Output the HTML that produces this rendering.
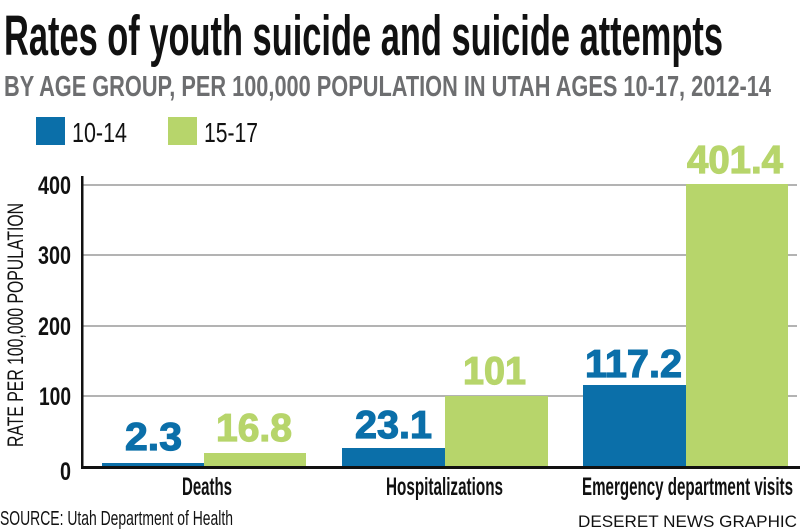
<!DOCTYPE html>
<html>
<head>
<meta charset="utf-8">
<style>
  html, body { margin: 0; padding: 0; background: #ffffff; }
  svg { display: block; }
  text { font-family: "Liberation Sans", sans-serif; }
</style>
</head>
<body>
<svg width="800" height="531" viewBox="0 0 800 531" xmlns="http://www.w3.org/2000/svg">
  <rect x="0" y="0" width="800" height="531" fill="#ffffff"/>

  <!-- Title -->
  <text x="4" y="55" font-size="57" font-weight="bold" fill="#111111" textLength="719" lengthAdjust="spacingAndGlyphs">Rates of youth suicide and suicide attempts</text>
  <!-- Subtitle -->
  <text x="4" y="96" font-size="29" font-weight="bold" fill="#6d6e70" textLength="767" lengthAdjust="spacingAndGlyphs">BY AGE GROUP, PER 100,000 POPULATION IN UTAH AGES 10-17, 2012-14</text>

  <!-- Legend -->
  <rect x="36" y="117" width="29" height="28" fill="#0b6fa9"/>
  <text x="72" y="142" font-size="28" fill="#111111" textLength="55" lengthAdjust="spacingAndGlyphs">10-14</text>
  <rect x="168" y="117" width="29" height="28" fill="#b7d56b"/>
  <text x="204" y="142" font-size="28" fill="#111111" textLength="54" lengthAdjust="spacingAndGlyphs">15-17</text>

  <!-- Gridlines -->
  <g stroke="#9a9a9a" stroke-width="1.5">
    <line x1="83" y1="185" x2="797" y2="185"/>
    <line x1="83" y1="255" x2="797" y2="255"/>
    <line x1="83" y1="326" x2="797" y2="326"/>
    <line x1="83" y1="396" x2="797" y2="396"/>
  </g>

  <!-- Bars -->
  <rect x="102" y="463" width="102" height="4" fill="#0b6fa9"/>
  <rect x="204" y="453" width="102" height="14" fill="#b7d56b"/>
  <rect x="342" y="448" width="103" height="19" fill="#0b6fa9"/>
  <rect x="445" y="396" width="103" height="71" fill="#b7d56b"/>
  <rect x="583" y="385" width="103" height="82" fill="#0b6fa9"/>
  <rect x="686" y="184" width="102" height="283" fill="#b7d56b"/>

  <!-- Axes -->
  <rect x="81" y="176" width="2.5" height="293" fill="#111111"/>
  <rect x="81" y="466" width="719" height="3" fill="#111111"/>

  <!-- Y tick labels -->
  <g font-size="25" font-weight="bold" fill="#111111">
    <text x="38" y="194" textLength="33" lengthAdjust="spacingAndGlyphs">400</text>
    <text x="38" y="264" textLength="33" lengthAdjust="spacingAndGlyphs">300</text>
    <text x="38" y="335" textLength="33" lengthAdjust="spacingAndGlyphs">200</text>
    <text x="39" y="405" textLength="32" lengthAdjust="spacingAndGlyphs">100</text>
    <text x="60" y="480" textLength="11" lengthAdjust="spacingAndGlyphs">0</text>
  </g>

  <!-- Y axis title -->
  <text transform="translate(23,447) rotate(-90)" x="0" y="0" font-size="22" fill="#111111" textLength="244" lengthAdjust="spacingAndGlyphs">RATE PER 100,000 POPULATION</text>

  <!-- Value labels -->
  <g font-size="39" font-weight="bold" stroke-width="1.2">
    <text x="125" y="450" fill="#0b6fa9" stroke="#0b6fa9" textLength="57" lengthAdjust="spacingAndGlyphs">2.3</text>
    <text x="216" y="441" fill="#b7d56b" stroke="#b7d56b" textLength="76" lengthAdjust="spacingAndGlyphs">16.8</text>
    <text x="355" y="438" fill="#0b6fa9" stroke="#0b6fa9" textLength="77" lengthAdjust="spacingAndGlyphs">23.1</text>
    <text x="463" y="384" fill="#b7d56b" stroke="#b7d56b" textLength="63" lengthAdjust="spacingAndGlyphs">101</text>
    <text x="585" y="377" fill="#0b6fa9" stroke="#0b6fa9" textLength="97" lengthAdjust="spacingAndGlyphs">117.2</text>
    <text x="687" y="173" fill="#b7d56b" stroke="#b7d56b" textLength="96" lengthAdjust="spacingAndGlyphs">401.4</text>
  </g>

  <!-- Category labels -->
  <g font-size="25" font-weight="bold" fill="#111111">
    <text x="182" y="495" textLength="50" lengthAdjust="spacingAndGlyphs">Deaths</text>
    <text x="386" y="495" textLength="117" lengthAdjust="spacingAndGlyphs">Hospitalizations</text>
    <text x="582" y="495" textLength="211" lengthAdjust="spacingAndGlyphs">Emergency department visits</text>
  </g>

  <!-- Footer -->
  <text x="0" y="525" font-size="20" fill="#111111" textLength="233" lengthAdjust="spacingAndGlyphs">SOURCE: Utah Department of Health</text>
  <text x="578" y="527" font-size="17" fill="#111111" textLength="219" lengthAdjust="spacingAndGlyphs">DESERET NEWS GRAPHIC</text>
</svg>
</body>
</html>
